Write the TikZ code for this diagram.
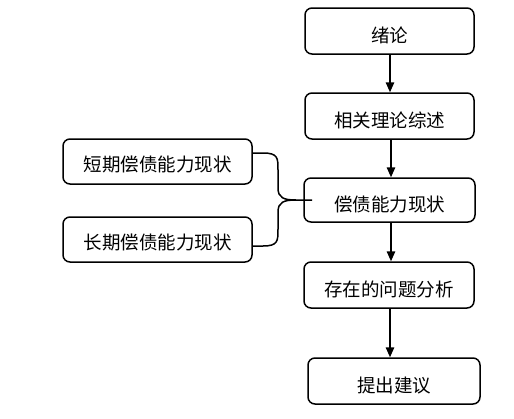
\documentclass[tikz,border=0pt]{standalone}
\usepackage{fontspec}
\setmainfont{Noto Sans CJK SC}
\usetikzlibrary{arrows.meta}
\newcommand{\lowtext}[2]{\raisebox{-#1}[0pt][0pt]{#2}}
\begin{document}
\begin{tikzpicture}[x=1pt,y=-1pt,
  box/.style={draw,line width=1.5pt,rounded corners=7pt,inner sep=0pt,font=\fontsize{18.5}{20}\selectfont},
  arr/.style={line width=1.5pt,-{Triangle[length=10pt,width=8.5pt]}},
  brace/.style={line width=1.5pt}]
\useasboundingbox (0,0) rectangle (514,418);
\node[box,minimum width=169pt,minimum height=46pt] (b1) at (389.5,31) {\lowtext{11pt}{绪论}};
\node[box,minimum width=169pt,minimum height=46pt] (b2) at (389.5,116) {\lowtext{11pt}{相关理论综述}};
\node[box,minimum width=171pt,minimum height=44pt] (b3) at (389.5,200) {\lowtext{11pt}{偿债能力现状}};
\node[box,minimum width=170pt,minimum height=46pt] (b4) at (389,285) {\lowtext{11pt}{存在的问题分析}};
\node[box,minimum width=172pt,minimum height=46pt] (b5) at (394,381) {\lowtext{11pt}{提出建议}};
\node[box,minimum width=189pt,minimum height=45pt] (s) at (157.5,161.5) {\lowtext{10pt}{短期偿债能力现状}};
\node[box,minimum width=189pt,minimum height=45pt] (l) at (157.5,239.5) {\lowtext{10pt}{长期偿债能力现状}};
\coordinate (m) at (312,200);
\draw[arr] (b1.south -| 390,0) -- (b2.north -| 390,0);
\draw[arr] (b2.south -| 391,0) -- (b3.north -| 391,0);
\draw[arr] (b3.south -| 391,0) -- (b4.north -| 391,0);
\draw[arr] (b4.south -| 390,0) -- (b5.north -| 390,0);
\draw[brace] (s.east |- 0,153) -- (263,153) .. controls (278,153) and (278,158) .. (278,170) -- (278,188) .. controls (278,198) and (284,200) .. (296,200) -- (m);
\draw[brace] (l.east |- 0,246) -- (263,246) .. controls (278,246) and (278,241) .. (278,229) -- (278,212) .. controls (278,202) and (284,200) .. (296,200);
\end{tikzpicture}
\end{document}
